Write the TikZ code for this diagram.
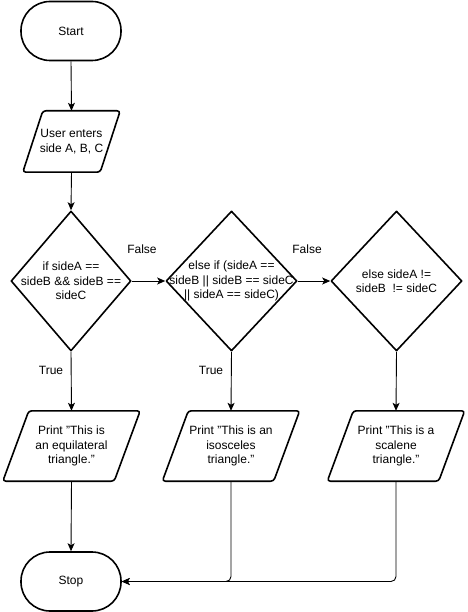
\documentclass[tikz,border=0pt]{standalone}
\usepackage{fontspec}
\setmainfont{Liberation Sans}
\usetikzlibrary{shapes.geometric,arrows.meta}
\begin{document}
\begin{tikzpicture}[x=1pt,y=-1pt,
  every node/.style={font=\fontsize{12}{14.4}\selectfont, align=center, inner sep=0pt},
  shapeline/.style={line width=1.6pt, line join=round},
  term/.style={shapeline, draw, rectangle, rounded corners=29pt, minimum width=100pt, minimum height=59pt},
  iobox/.style={minimum width=97pt, minimum height=61pt},
  prbox/.style={minimum width=137pt, minimum height=70pt},
  decbox/.style={shapeline, draw, diamond, minimum height=140pt},
  conn/.style={line width=0.9pt, -{Stealth[length=8pt,width=7pt,inset=2pt]}},
  lbl/.style={fill=white, inner sep=1pt}
]
\useasboundingbox (0,0) rectangle (467,612);

% terminals
\node[term] (start) at (71,31) {Start};
\node[term] (stop) at (71,581.5) {Stop};

% input
\node[iobox] (in) at (71.5,141.5) {User enters\\side A, B, C};
\draw[shapeline, rounded corners=3pt] ([xshift=20pt]in.north west) -- (in.north east) -- ([xshift=-20pt]in.south east) -- (in.south west) -- cycle;

% decisions
\node[decbox, minimum width=120pt] (d1) at (71,281) {};
\node (d1t) at (71,281) {if sideA ==\\sideB \&\& sideB ==\\sideC};
\node[decbox, minimum width=131pt] (d2) at (231.5,281) {};
\node (d2t) at (231.5,281) {else if (sideA ==\\sideB || sideB == sideC\\|| sideA == sideC)};
\node[decbox, minimum width=131pt] (d3) at (396.5,281) {};
\node (d3t) at (396.5,281) {else sideA !=\\sideB\ \ != sideC};

% prints
\node[prbox] (p1) at (71.5,446) {Print "This is\\an equilateral\\triangle."};
\draw[shapeline, rounded corners=3pt] ([xshift=26pt]p1.north west) -- (p1.north east) -- ([xshift=-26pt]p1.south east) -- (p1.south west) -- cycle;
\node[prbox] (p2) at (231,446) {Print "This is an\\isosceles\\triangle."};
\draw[shapeline, rounded corners=3pt] ([xshift=26pt]p2.north west) -- (p2.north east) -- ([xshift=-26pt]p2.south east) -- (p2.south west) -- cycle;
\node[prbox] (p3) at (396,446) {Print "This is a\\scalene\\triangle."};
\draw[shapeline, rounded corners=3pt] ([xshift=26pt]p3.north west) -- (p3.north east) -- ([xshift=-26pt]p3.south east) -- (p3.south west) -- cycle;

% connectors
\draw[conn] (start.south) -- (in.north);
\draw[conn] (in.south) -- (d1.north);
\draw[conn] (d1.east) -- (d2.west);
\draw[conn] (d2.east) -- (d3.west);
\draw[conn] (d1.south) -- (p1.north);
\draw[conn] (d2.south) -- (p2.north);
\draw[conn] (d3.south) -- (p3.north);
\draw[conn] (p1.south) -- (stop.north);
\draw[conn, rounded corners=5pt] (p2.south) |- (stop.east);
\draw[conn, rounded corners=5pt] (p3.south) |- (stop.east);

% labels
\node[lbl] (f1) at (142,249) {False};
\node[lbl] (f2) at (307,249) {False};
\node[lbl] (t1) at (51,370) {True};
\node[lbl] (t2) at (211,370) {True};
\end{tikzpicture}
\end{document}
